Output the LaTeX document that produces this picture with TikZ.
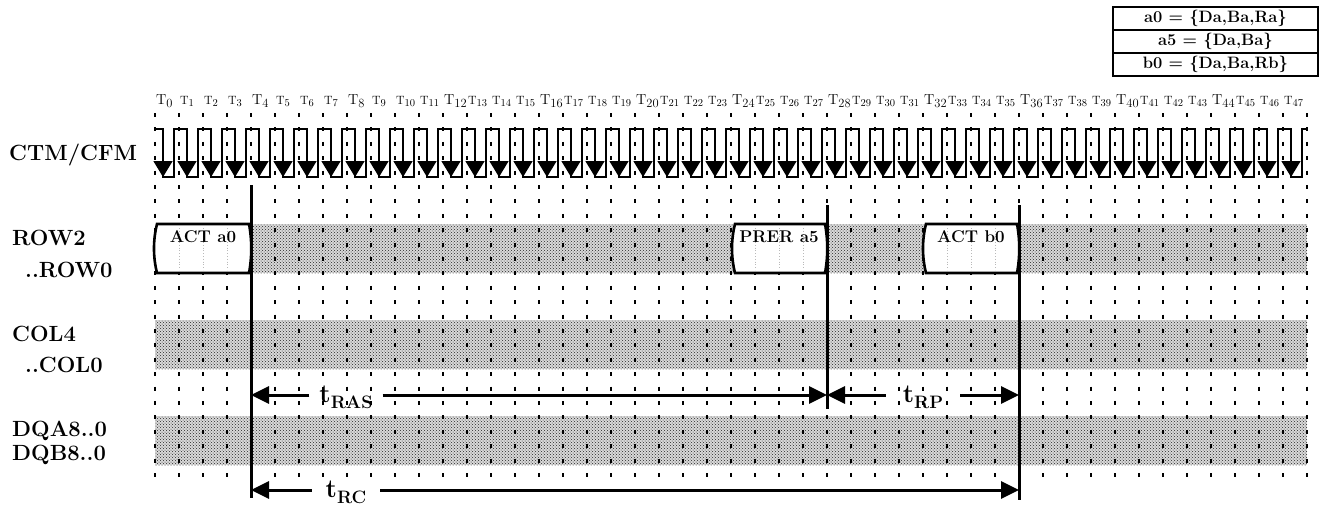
\documentclass[tikz,border=0pt]{standalone}
\usepackage{amsmath}
\usepackage{tikz}
\usetikzlibrary{positioning}
\usetikzlibrary{arrows.meta,patterns}

\begin{document}
\begin{tikzpicture}[
        x = 1pt, y = -1pt,
        grid/.style = {line width=1.6pt, dash pattern=on 4pt off 10.4pt},
        boxgrid/.style = {gray!55, line width=0.8pt, dotted},
        clk/.style = {line width=1.6pt, line join=miter},
        edge/.style = {line width=1.6pt, -{Triangle[length=16pt, width=19pt]}},
        bus/.style = {preaction={fill=gray!30}, pattern=crosshatch dots, pattern color=black!85},
        cmdbox/.style = {draw, line width=2.6pt, fill=white},
        cmd/.style = {anchor=base, inner sep=0pt, font=\fontsize{17}{19}\selectfont\bfseries},
        signame/.style = {anchor=base west, inner sep=0pt, font=\fontsize{22}{24}\selectfont\bfseries},
        marker/.style = {line width=3pt},
        span/.style = {line width=3pt, -{Triangle[length=18pt, width=17pt]}},
        spanlabel/.style = {anchor=base, inner ysep=0pt, inner xsep=#1, font=\fontsize{26}{28}\selectfont\bfseries},
        spanlabel/.default = 10pt,
        legend/.style = {draw, line width=1.5pt, minimum width=205pt, minimum height=23pt,
            inner sep=0pt, outer sep=0pt, font=\fontsize{16.5}{18}\selectfont\bfseries}
        ]
\useasboundingbox (0,0) rectangle (1322,504);
%
        \node[legend] (a0) at (1215.5,18.5) {a0 = \{Da,Ba,Ra\}};
        \node[legend, below=0pt of a0] (a5) {a5 = \{Da,Ba\}};
        \node[legend, below=0pt of a5] (b0) {b0 = \{Da,Ba,Rb\}};
%
% clock numbers
        \foreach \i in {0,...,47} {
            \pgfmathtruncatemacro{\big}{mod(\i,4)==0 ? 1 : 0}
            \ifnum\big=1
                \node[anchor=base west, inner sep=0pt] (T\i) at (156+24*\i,104)
                    {\fontsize{14.5}{15}\selectfont T\raisebox{-3pt}{\fontsize{12.5}{13}\selectfont\i}};
            \else
                \node[anchor=base west, inner sep=0pt] (T\i) at (156+24*\i,104)
                    {\fontsize{12}{13}\selectfont T\raisebox{-2pt}{\fontsize{10.5}{11}\selectfont\i}};
            \fi
        }
%
% signal names
        \node[signame] (ctm) at (9,160) {CTM/CFM};
        \node[signame] (row2) at (12,245) {ROW2};
        \node[signame] (row0) at (25,277) {..ROW0};
        \node[signame] (col4) at (12,341) {COL4};
        \node[signame] (col0) at (25,372) {..COL0};
        \node[signame] (dqa) at (12,436) {DQA8..0};
        \node[signame] (dqb) at (12,460) {DQB8..0};
%
% busses
        \fill[bus] (251,224) rectangle (734,273);
        \fill[bus] (827,224) rectangle (925,273);
        \fill[bus] (1019,224) rectangle (1307,273);
        \fill[bus] (155,320) rectangle (1307,369);
        \fill[bus] (155,416) rectangle (1307,465);
%
        \foreach \i in {0,...,48}
            \draw[grid] (155+24*\i,113) -- (155+24*\i,480);
%
% clock
        \draw[clk] (155,129) \foreach \i in {0,...,47} {
            -- (163+24*\i,129) -- (163+24*\i,177) -- (174+24*\i,177) -- (174+24*\i,129) } -- (1307,129);
        \foreach \i in {0,...,47}
            \draw[edge] (163+24*\i,129) -- (163+24*\i,177);
%
        \draw[cmdbox] (157,224) -- (249,224) .. controls (252,240) and (252,257) .. (249,273)
            -- (157,273) .. controls (153,257) and (153,240) .. cycle;
        \draw[cmdbox] (735,224) -- (825,224) .. controls (828,240) and (828,257) .. (825,273)
            -- (735,273) .. controls (731,257) and (731,240) .. cycle;
        \draw[cmdbox] (926,224) -- (1017,224) .. controls (1020,240) and (1020,257) .. (1017,273)
            -- (926,273) .. controls (922,257) and (922,240) .. cycle;
        \foreach \x in {179,203,227,755,779,803,947,971,995}
            \draw[boxgrid] (\x,228) -- (\x,270);
%
        \node[cmd] (acta) at (203,242) {ACT a0};
        \node[cmd] (prer) at (779,242) {PRER a5};
        \node[cmd] (actb) at (971,242) {ACT b0};
%
% markers
        \coordinate (m1a) at (251,185);
        \coordinate (m1b) at (251,498);
        \coordinate (m2a) at (827,205);
        \coordinate (m2b) at (827,409);
        \coordinate (m3a) at (1019,205);
        \coordinate (m3b) at (1019,500);
        \draw[marker] (m1a) -- (m1b);
        \draw[marker] (m2a) -- (m2b);
        \draw[marker] (m3a) -- (m3b);
%
        \coordinate (rasL) at (251,395);
        \coordinate (rasR) at (827,395);
        \coordinate (rpR) at (1019,395);
        \coordinate (rcL) at (251,490);
        \coordinate (rcR) at (1019,490);
%
        \node[spanlabel] (tras) at (346,402) {t\raisebox{-6pt}{\fontsize{18}{19}\selectfont RAS}};
        \node[spanlabel=17pt] (trp) at (923,402) {t\raisebox{-6pt}{\fontsize{18}{19}\selectfont RP}};
        \node[spanlabel=14pt] (trc) at (346,497) {t\raisebox{-6pt}{\fontsize{18}{19}\selectfont RC}};
%
        \draw[span] (tras.west |- rasL) -- (rasL);
        \draw[span] (tras.east |- rasL) -- (rasR);
        \draw[span] (trp.west |- rasR) -- (rasR);
        \draw[span] (trp.east |- rpR) -- (rpR);
        \draw[span] (trc.west |- rcL) -- (rcL);
        \draw[span] (trc.east |- rcR) -- (rcR);
%
\end{tikzpicture}
\end{document}
